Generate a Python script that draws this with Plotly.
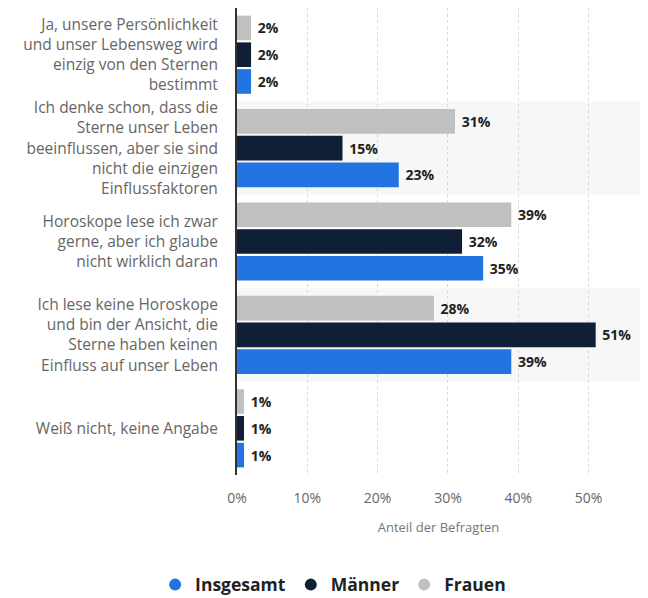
import plotly.graph_objects as go

categories = [
    "Ja, unsere Persönlichkeit<br>und unser Lebensweg wird<br>einzig von den Sternen<br>bestimmt",
    "Ich denke schon, dass die<br>Sterne unser Leben<br>beeinflussen, aber sie sind<br>nicht die einzigen<br>Einflussfaktoren",
    "Horoskope lese ich zwar<br>gerne, aber ich glaube<br>nicht wirklich daran",
    "Ich lese keine Horoskope<br>und bin der Ansicht, die<br>Sterne haben keinen<br>Einfluss auf unser Leben",
    "Weiß nicht, keine Angabe",
]
insgesamt = [2, 23, 35, 39, 1]
maenner = [2, 15, 32, 51, 1]
frauen = [2, 31, 39, 28, 1]
tick_vals = [0, 10, 20, 30, 40, 50]
tick_text = ["0%", "10%", "20%", "30%", "40%", "50%"]

series = [
    ("Insgesamt", insgesamt, "#2274e0"),
    ("Männer", maenner, "#0e1f36"),
    ("Frauen", frauen, "#c0c0c0"),
]

fig = go.Figure()
for name, vals, col in series:
    fig.add_trace(go.Bar(
        y=categories, x=vals, name=name, orientation="h",
        marker=dict(color=col, line=dict(width=0)),
        text=[f"\u00a0{v}%" for v in vals], textposition="outside",
        textfont=dict(family="Open Sans", size=14, color="#222222", weight="bold"),
        cliponaxis=False, showlegend=False,
    ))
for name, vals, col in series:
    fig.add_trace(go.Scatter(
        x=[None], y=[None], mode="markers", name=name,
        marker=dict(symbol="circle", size=15, color=col),
        showlegend=True,
    ))

shapes = []
for i in [1, 3]:
    pos = len(categories) - 1 - i
    shapes.append(dict(type="rect", xref="paper", yref="y", x0=0, x1=1.02,
                       y0=pos - 0.5, y1=pos + 0.5, fillcolor="#f7f7f7",
                       line=dict(width=0), layer="below"))

fig.update_layout(
    width=640, height=590,
    margin=dict(l=229, r=8, t=0, b=123, autoexpand=False),
    paper_bgcolor="white", plot_bgcolor="white",
    barmode="group", bargap=0.14, bargroupgap=0.08,
    font=dict(family="Open Sans", size=15.5, color="#666666"),
    shapes=shapes,
    showlegend=True,
    legend=dict(orientation="h", x=0.508, xanchor="center", xref="container",
                y=-0.235, yref="paper", yanchor="middle",
                font=dict(family="Open Sans", size=17.5, color="#222222", weight="bold"),
                itemsizing="constant", itemwidth=30, tracegroupgap=0),
    xaxis=dict(range=[0, 57.3], tickvals=tick_vals, ticktext=tick_text,
               showgrid=True, gridcolor="#d8d8d8", griddash="dot", gridwidth=1,
               zeroline=False, showline=False, ticks="", automargin=False,
               tickfont=dict(size=14, color="#666666"), ticklabelstandoff=13,
               title=dict(text="Anteil der Befragten", font=dict(size=13, color="#777777"), standoff=16)),
    yaxis=dict(categoryorder="array", categoryarray=categories[::-1],
               showline=True, linecolor="#333333", linewidth=2,
               ticks="", showgrid=False, automargin=False,
               tickfont=dict(size=15.5, color="#666666"), ticklabelstandoff=14),
)

fig.write_html("out.html")
